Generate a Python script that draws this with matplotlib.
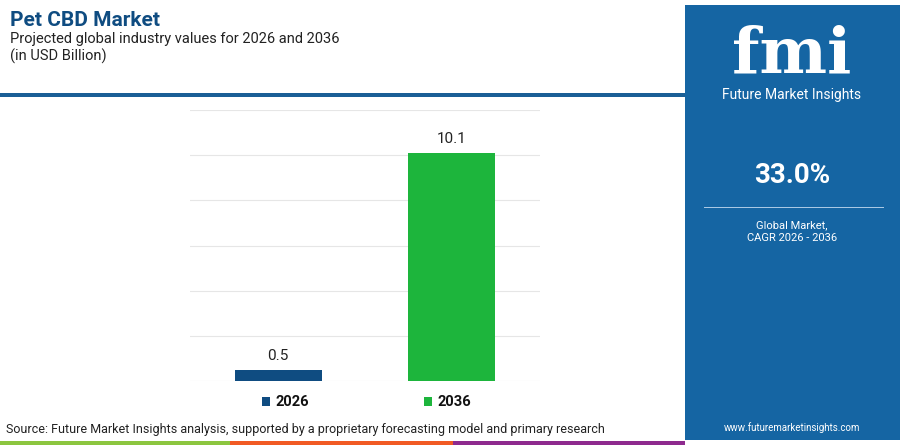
import matplotlib
matplotlib.use("Agg")
import matplotlib.pyplot as plt
from matplotlib.patches import Rectangle

years = ["2026", "2036"]
values = [0.5, 10.1]
colors = ["#0f4c81", "#1db53c"]
cagr = "33.0%"

plt.rcParams['font.family'] = ['Roboto', 'DejaVu Sans']
fig = plt.figure(figsize=(9, 4.45), dpi=100)
fig.patch.set_facecolor("white")

# header
fig.text(0.011, 0.955, "Pet CBD Market", fontsize=15, fontweight="bold", color="#0f4c81", va="center")
fig.text(0.011, 0.912, "Projected global industry values for 2026 and 2036", fontsize=10.5, color="#222222", va="center")
fig.text(0.011, 0.873, "(in USD Billion)", fontsize=10.5, color="#222222", va="center")
fig.add_artist(Rectangle((0, 1-97/445), 685/900, 4/445, transform=fig.transFigure, color="#1a5f96", lw=0))

ax = fig.add_axes([190/900, 1-381/445, 350/900, 271/445])
x = list(range(len(years)))
bars = ax.bar(x, values, width=0.5, color=colors, zorder=3)
for xi, v in zip(x, values):
    ax.text(xi, v + 0.3, f"{v}", ha="center", va="bottom", fontsize=11, color="#222222")
ax.set_xlim(-0.506, 1.506)
ax.set_ylim(0, 12)
ax.set_yticks(range(0, 13, 2))
ax.grid(axis="y", color="#e6e6e6", lw=0.8, zorder=0)
ax.set_xticks([])
ax.tick_params(left=False, labelleft=False)
for s in ax.spines.values():
    s.set_visible(False)

# legend
for xc, lab, c in [(262, years[0], colors[0]), (424, years[1], colors[1])]:
    fig.add_artist(Rectangle((xc/900, 1-406/445), 8/900, 9/445, transform=fig.transFigure, color=c, lw=0))
    fig.text((xc+13)/900, 1-401.5/445, lab, fontsize=10.5, fontweight="bold", va="center", color="#111111")

fig.text(0.007, 1-429/445, "Source: Future Market Insights analysis, supported by a proprietary forecasting model and primary research",
         fontsize=9, color="#222222", va="center")
for x0, x1, c in [(0, 230, "#8cc63f"), (230, 453, "#f15a24"), (453, 685, "#8e2a8e")]:
    fig.add_artist(Rectangle((x0/900, 0), (x1-x0)/900, 4/445, transform=fig.transFigure, color=c, lw=0))

# right panel
fig.add_artist(Rectangle((685/900, 5/445), 215/900, 435/445, transform=fig.transFigure, color="#1565a3", lw=0))
cx = 792/900
fig.text(cx, 1-55/445, "fmi", fontsize=46, fontweight="bold", color="white", ha="center", va="center", family="DejaVu Serif")
fig.text(cx, 1-95/445, "Future Market Insights", fontsize=10, color="white", ha="center", va="center")
fig.text(cx, 1-175/445, cagr, fontsize=20, fontweight="bold", color="white", ha="center", va="center")
fig.add_artist(Rectangle((704/900, 1-208/445), 180/900, 1.5/445, transform=fig.transFigure, color="#a9c8e4", lw=0))
fig.text(cx, 1-225/445, "Global Market,", fontsize=8, color="white", ha="center", va="center")
fig.text(cx, 1-238/445, "CAGR 2026 - 2036", fontsize=8, color="white", ha="center", va="center")
fig.text(cx, 1-428/445, "www.futuremarketinsights.com", fontsize=7, color="white", ha="center", va="center")

fig.savefig("out.png", dpi=100, facecolor="white")
